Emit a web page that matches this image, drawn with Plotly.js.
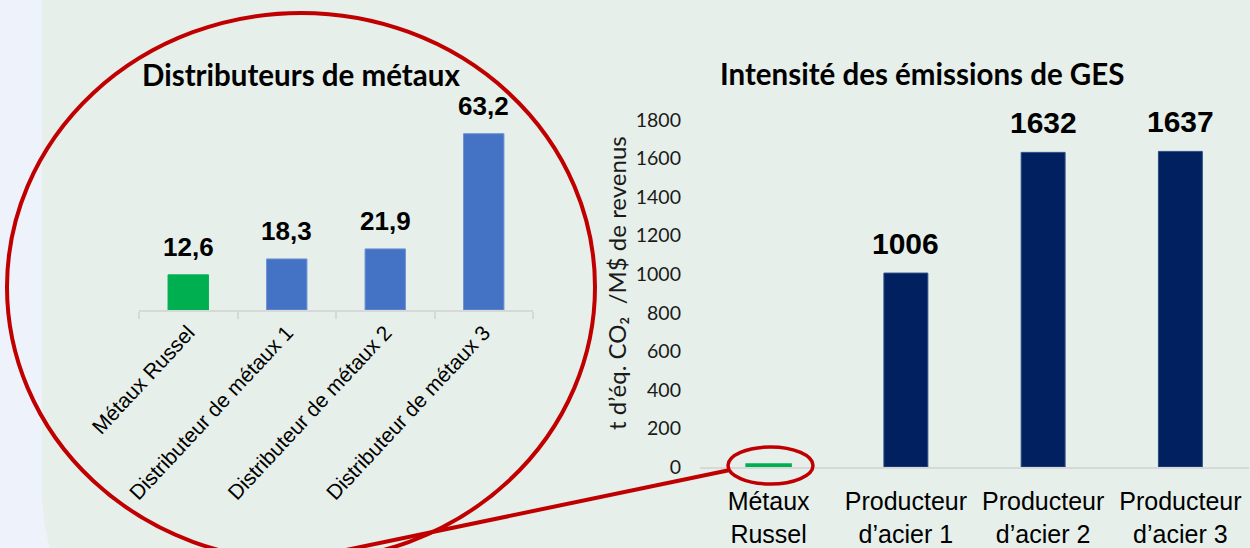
<!DOCTYPE html>
<html>
<head>
<meta charset="utf-8">
<script src="https://cdn.plot.ly/plotly-3.0.1.min.js"></script>
<style>
html,body{margin:0;padding:0;background:#e6efe9;overflow:hidden;}
#chart{width:1250px;height:548px;}
</style>
</head>
<body>
<div id="chart"></div>
<script>
// ---- data ----
const distCategories = ['Métaux Russel', 'Distributeur de métaux 1', 'Distributeur de métaux 2', 'Distributeur de métaux 3'];
const distValues = [12.6, 18.3, 21.9, 63.2];
const distLabels = ['12,6', '18,3', '21,9', '63,2'];
const distColors = ['#00B050', '#4472C4', '#4472C4', '#4472C4'];

const prodCategories = ['Métaux<br>Russel', 'Producteur<br>d’acier 1', 'Producteur<br>d’acier 2', 'Producteur<br>d’acier 3'];
const prodValues = [12.6, 1006, 1632, 1637];
const prodLabels = ['', '1006', '1632', '1637'];
const prodColors = ['#00B050', '#002060', '#002060', '#002060'];

const leftTitle = 'Distributeurs de métaux';
const rightTitle = 'Intensité des émissions de GES';
const rightYTitle = 't d’éq. CO₂  /M$ de revenus';

// ---- helpers: pixel -> paper ----
const W = 1250, H = 548;
const X = v => v / W;
const Y = v => 1 - v / H;

const traces = [
  {
    type: 'bar', x: distCategories, y: distValues, xaxis: 'x', yaxis: 'y',
    width: 0.41,
    marker: {color: distColors, line: {color: ['#00B050', '#6F93D3', '#6F93D3', '#6F93D3'], width: 1}},
    hoverinfo: 'none', showlegend: false
  },
  {
    type: 'bar', x: prodCategories, y: prodValues, xaxis: 'x2', yaxis: 'y2',
    width: 0.32,
    marker: {color: prodColors, line: {color: ['#00B050', '#2E4C86', '#2E4C86', '#2E4C86'], width: [2.6, 1, 1, 1]}},
    hoverinfo: 'none', showlegend: false
  }
];

const annotations = [];
distCategories.forEach((c, i) => annotations.push({
  xref: 'x', yref: 'y', x: c, y: distValues[i], text: distLabels[i],
  showarrow: false, yanchor: 'bottom', yshift: 11,
  font: {family: 'Liberation Sans, Arial, sans-serif', size: 26, color: '#000', weight: 'bold'}
}));
prodCategories.forEach((c, i) => { if (prodLabels[i]) annotations.push({
  xref: 'x2', yref: 'y2', x: c, y: prodValues[i], text: prodLabels[i],
  showarrow: false, yanchor: 'bottom', yshift: 11,
  font: {family: 'Liberation Sans, Arial, sans-serif', size: 30, color: '#000', weight: 'bold'}
}); });
annotations.push({
  xref: 'paper', yref: 'paper', x: X(301), y: Y(75), text: leftTitle, showarrow: false,
  xanchor: 'center', yanchor: 'middle',
  font: {family: 'Lato, sans-serif', size: 29.5, color: '#000', weight: 'bold'}
});
annotations.push({
  xref: 'paper', yref: 'paper', x: X(922), y: Y(73), text: rightTitle, showarrow: false,
  xanchor: 'center', yanchor: 'middle',
  font: {family: 'Lato, sans-serif', size: 29.5, color: '#000', weight: 'bold'}
});
annotations.push({
  xref: 'paper', yref: 'paper', x: X(616), y: Y(283), text: rightYTitle, showarrow: false,
  textangle: -90, xanchor: 'center', yanchor: 'middle',
  font: {family: 'Lato, sans-serif', size: 24, color: '#1a1a1a'}
});

const red = '#C00000';
const stripPath = 'M 0,1 L ' + X(42) + ',1 L ' + X(42) + ',' + Y(490) +
  ' Q ' + X(42) + ',' + Y(519) + ' ' + X(50) + ',' + Y(548) + ' L 0,' + Y(548) + ' Z';

const shapes = [
  {type: 'path', xref: 'paper', yref: 'paper', path: stripPath, fillcolor: '#eef3fb', line: {width: 0}, layer: 'below'},
  {type: 'circle', xref: 'paper', yref: 'paper', x0: X(7), x1: X(595), y0: Y(13), y1: Y(561),
    line: {color: red, width: 4}, fillcolor: 'rgba(0,0,0,0)', layer: 'above'},
  {type: 'circle', xref: 'paper', yref: 'paper', x0: X(728), x1: X(813), y0: Y(447), y1: Y(484),
    line: {color: red, width: 3.5}, fillcolor: 'rgba(0,0,0,0)', layer: 'above'},
  {type: 'line', xref: 'paper', yref: 'paper', x0: X(730), y0: Y(470), x1: X(298), y1: Y(560),
    line: {color: red, width: 4}, layer: 'above'}
];

const layout = {
  width: W, height: H,
  margin: {l: 0, r: 0, t: 0, b: 0, pad: 0},
  paper_bgcolor: '#e6efe9',
  plot_bgcolor: 'rgba(0,0,0,0)',
  showlegend: false,
  xaxis: {
    domain: [X(139), X(533)], anchor: 'y', type: 'category', range: [-0.5, 3.5],
    showline: true, linecolor: '#d6d9d8', linewidth: 2,
    ticks: 'outside', tickson: 'boundaries', ticklen: 7, tickcolor: '#d6d9d8', tickwidth: 2,
    tickangle: -47, automargin: false,
    tickfont: {family: 'Liberation Sans, Arial, sans-serif', size: 21, color: '#000'},
    showgrid: false, zeroline: false, fixedrange: true
  },
  yaxis: {
    domain: [Y(310), Y(310 - 70 * 2.79)], anchor: 'x', range: [0, 70],
    visible: false, showgrid: false, zeroline: false, fixedrange: true
  },
  xaxis2: {
    domain: [X(700), X(1249)], anchor: 'y2', type: 'category', range: [-0.5, 3.5],
    showline: true, linecolor: '#d6d9d8', linewidth: 2, ticks: '',
    ticklabelstandoff: 11, automargin: false,
    tickfont: {family: 'Liberation Sans, Arial, sans-serif', size: 25, color: '#000'},
    showgrid: false, zeroline: false, fixedrange: true
  },
  yaxis2: {
    domain: [Y(467), Y(120)], anchor: 'x2', range: [0, 1800], dtick: 200, tick0: 0,
    showline: false, showgrid: false, zeroline: false, ticks: '',
    ticklabelstandoff: 18, automargin: false,
    tickfont: {family: 'Lato, sans-serif', size: 19.5, color: '#1a1a1a'},
    fixedrange: true
  },
  annotations: annotations,
  shapes: shapes
};

Plotly.newPlot('chart', traces, layout, {displayModeBar: false, staticPlot: true});
</script>
</body>
</html>
